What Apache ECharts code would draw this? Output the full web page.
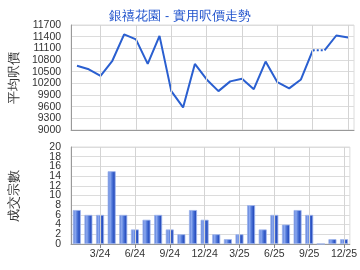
<!DOCTYPE html>
<html><head><meta charset="utf-8">
<script src="https://cdn.jsdelivr.net/npm/echarts@6/dist/echarts.min.js"></script>
<style>html,body{margin:0;padding:0;background:#fff}#c{width:360px;height:270px}</style>
</head><body><div id="c"></div>
<script>
const titleText = '銀禧花園 - 實用呎價走勢';
const priceAxisName = '平均呎價';
const volumeAxisName = '成交宗數';
const months = ['1/24','2/24','3/24','4/24','5/24','6/24','7/24','8/24','9/24','10/24','11/24','12/24',
                '1/25','2/25','3/25','4/25','5/25','6/25','7/25','8/25','9/25','10/25','11/25','12/25'];
const priceVals = [10650,10560,10390,10780,11460,11330,10700,11420,10000,9580,10700,10300,
                   10000,10250,10320,10050,10760,10230,10070,10300,11050,11050,11430,11380];
const volumeVals = [7,6,6,15,6,3,5,6,3,2,7,5,2,1,2,8,3,6,4,7,6,0,1,1];
const volMin = 0, volMax = 20, volStep = 2;
const gapFrom = 20, gapTo = 21; // dotted segment (no transactions in 10/25)

const showLabel = (i) => i % 3 === 2;
const labelledMonths = months.filter((m,i) => showLabel(i));
const mainLine = priceVals.map((v,i) => i <= gapFrom ? v : '-');
const tailLine = priceVals.map((v,i) => i >= gapTo ? v : '-');
const dotLine = priceVals.map((v,i) => (i === gapFrom || i === gapTo) ? v : '-');

const chart = echarts.init(document.getElementById('c'));
const lineColor = '#2a5fd0';
const font = 'Liberation Sans, Arial, sans-serif';
const vGrid = (xi, yi) => ({
  type:'line', xAxisIndex:xi, yAxisIndex:yi, data:[], z:1, silent:true,
  markLine:{silent:true, symbol:'none', label:{show:false}, animation:false,
    lineStyle:{color:'#d4d4d4', width:1, type:'solid'},
    data:labelledMonths.map(m => ({xAxis:m}))}
});
const yLabel = {color:'#333', fontSize:10.5, fontFamily:font, margin:10, formatter:(v)=>String(v)};
chart.setOption({
  animation:false,
  title:{text:titleText, left:'center', top:5, textStyle:{color:'#1f52cc', fontSize:12.5, fontWeight:'normal', fontFamily:font}},
  grid:[
    {left:66, right:6, top:25, height:105, show:true, borderColor:'#dcdcdc', borderWidth:1},
    {left:66, right:6, top:147, height:97, show:true, borderColor:'#dcdcdc', borderWidth:1}
  ],
  xAxis:[
    {type:'category', gridIndex:0, data:months, boundaryGap:true,
     axisLine:{lineStyle:{color:'#999', width:1}}, axisTick:{show:false}, axisLabel:{show:false},
     splitLine:{show:false}},
    {type:'category', gridIndex:1, data:months, boundaryGap:true,
     axisLine:{lineStyle:{color:'#999', width:1}},
     axisTick:{show:true, alignWithLabel:true, interval:(i)=>showLabel(i), length:4, lineStyle:{color:'#888'}},
     axisLabel:{interval:(i)=>showLabel(i), color:'#333', fontSize:10.5, fontFamily:font, margin:5},
     splitLine:{show:false}}
  ],
  yAxis:[
    {type:'value', gridIndex:0, min:9000, max:11700, interval:300,
     name:priceAxisName, nameLocation:'middle', nameGap:50, nameRotate:90,
     nameTextStyle:{color:'#333', fontSize:12.5},
     axisLine:{show:true, lineStyle:{color:'#999'}}, axisTick:{show:false},
     axisLabel:Object.assign({}, yLabel, {showMinLabel:true, showMaxLabel:true}),
     splitLine:{lineStyle:{color:'#dcdcdc'}}},
    {type:'value', gridIndex:1, min:volMin, max:volMax, interval:volStep, position:'left',
     name:volumeAxisName, nameLocation:'middle', nameGap:50, nameRotate:90,
     nameTextStyle:{color:'#333', fontSize:12.5},
     axisLine:{show:true, lineStyle:{color:'#999'}}, axisTick:{show:false},
     axisLabel:Object.assign({}, yLabel, {showMinLabel:false, showMaxLabel:false}),
     splitLine:{lineStyle:{color:'#dcdcdc'}}},
    {type:'value', gridIndex:1, min:volMin, max:volMax, interval:volStep, position:'left', offset:0,
     axisLine:{show:false}, axisTick:{show:false}, splitLine:{show:false},
     axisLabel:Object.assign({}, yLabel, {showMinLabel:true, showMaxLabel:true,
       formatter:(v)=> (v === volMin || v === volMax) ? String(v) : ''})}
  ],
  series:[
    vGrid(0,0),
    vGrid(1,1),
    {type:'line', xAxisIndex:0, yAxisIndex:0, data:mainLine, symbol:'none', z:3, lineStyle:{color:lineColor, width:2}},
    {type:'line', xAxisIndex:0, yAxisIndex:0, data:tailLine, symbol:'none', z:3, lineStyle:{color:lineColor, width:2}},
    {type:'line', xAxisIndex:0, yAxisIndex:0, data:dotLine, symbol:'none', z:3, lineStyle:{color:lineColor, width:2, type:[2,2]}},
    {type:'bar', xAxisIndex:1, yAxisIndex:1, data:volumeVals, barWidth:8, z:3,
     itemStyle:{borderColor:'#9db4ec', borderWidth:0.8,
       color:new echarts.graphic.LinearGradient(0,0,1,0,[
         {offset:0, color:'#4a70d0'},{offset:0.3, color:'#8eaaf0'},{offset:0.55, color:'#4f77d8'},{offset:0.8, color:'#2a50c0'},{offset:1, color:'#3a60c8'}])}}
  ]
});
</script></body></html>
